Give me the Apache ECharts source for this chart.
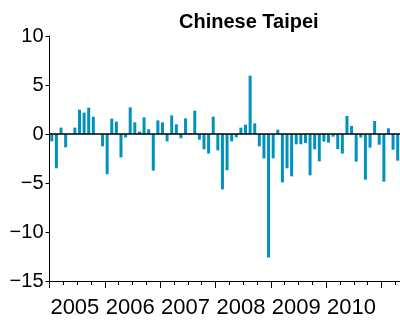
<!DOCTYPE html>
<html>
<head>
<meta charset="utf-8">
<script src="https://cdn.jsdelivr.net/npm/echarts@6/dist/echarts.min.js"></script>
<style>html,body{margin:0;padding:0;background:#fff}#c{width:400px;height:320px}</style>
</head>
<body>
<div id="c"></div>
<script>
// Monthly categories Jan 2005 .. Apr 2011
var years = [2005, 2006, 2007, 2008, 2009, 2010, 2011];
var months = [];
years.forEach(function (y) {
  for (var m = 1; m <= 12; m++) {
    if (y === 2011 && m > 4) break;
    months.push(y + '-' + (m < 10 ? '0' + m : m));
  }
});
var values = [
  -0.75, -3.5, 0.65, -1.36, 0, 0.65, 2.48, 2.18, 2.69, 1.77, 0, -1.26,
  -4.1, 1.56, 1.26, -2.38, -0.35, 2.72, 1.19, 0.24, 1.7, 0.48, -3.74, 1.39,
  1.19, -0.75, 1.9, 0.99, -0.44, 1.6, 0.1, 2.38, -0.58, -1.56, -2.0, 1.77,
  -1.67, -5.65, -3.7, -0.75, -0.34, 0.65, 0.95, 5.95, 1.09, -1.26, -2.5, -12.6,
  -2.48, 0.44, -4.93, -3.5, -4.32, -1.05, -1.05, -0.92, -4.22, -1.56, -2.79, -0.77,
  -0.88, -0.27, -1.53, -2.0, 1.84, 0.82, -2.82, -0.37, -4.66, -1.39, 1.33, -1.09,
  -4.86, 0.58, -1.6, -2.72
];
var title = 'Chinese Taipei';
var yTicks = { min: -15, max: 10, interval: 5 };

var font = 'Liberation Sans, Arial, Helvetica, sans-serif';
var chart = echarts.init(document.getElementById('c'), null, { renderer: 'canvas' });
chart.setOption({
  animation: false,
  backgroundColor: '#fff',
  title: {
    text: title,
    left: 174,
    top: 7,
    textStyle: { fontFamily: font, fontSize: 20, fontWeight: 'bold', color: '#000' }
  },
  grid: { left: 49.5, right: 0, top: 36, bottom: 39 },
  xAxis: [
    {
      type: 'category',
      data: months,
      boundaryGap: true,
      axisLine: { show: true, onZero: false, lineStyle: { color: '#000', width: 1 } },
      axisTick: { show: true, length: 4, interval: function (i) { return i % 3 === 0; }, lineStyle: { color: '#000', width: 1 } },
      axisLabel: { show: false },
      splitLine: { show: false }
    },
    {
      type: 'category',
      data: months,
      boundaryGap: true,
      position: 'bottom',
      axisLine: { show: false, onZero: false },
      axisTick: { show: true, length: 7, interval: function (i) { return i % 12 === 0; }, lineStyle: { color: '#000', width: 1 } },
      axisLabel: {
        show: true,
        interval: function (i) { return i % 12 === 5; },
        formatter: function (v) { return v.slice(0, 4); },
        margin: 16,
        fontFamily: font,
        fontSize: 22,
        color: '#000'
      },
      splitLine: { show: false }
    }
  ],
  yAxis: {
    type: 'value',
    min: yTicks.min,
    max: yTicks.max,
    interval: yTicks.interval,
    axisLine: { show: true, lineStyle: { color: '#000', width: 1 } },
    axisTick: { show: true, length: 4, lineStyle: { color: '#000', width: 1 } },
    axisLabel: {
      margin: 6,
      fontFamily: font,
      fontSize: 20,
      color: '#000',
      formatter: function (v) { return String(v).replace('-', '\u2212'); }
    },
    splitLine: { show: false }
  },
  series: [{
    type: 'bar',
    xAxisIndex: 0,
    data: values,
    barWidth: 3,
    itemStyle: { color: '#0092bf' },
    markLine: {
      silent: true,
      symbol: ['none', 'none'],
      label: { show: false },
      lineStyle: { color: '#000', width: 1.5, type: 'solid' },
      data: [{ yAxis: 0 }],
      z: 10
    }
  }]
});
</script>
</body>
</html>
